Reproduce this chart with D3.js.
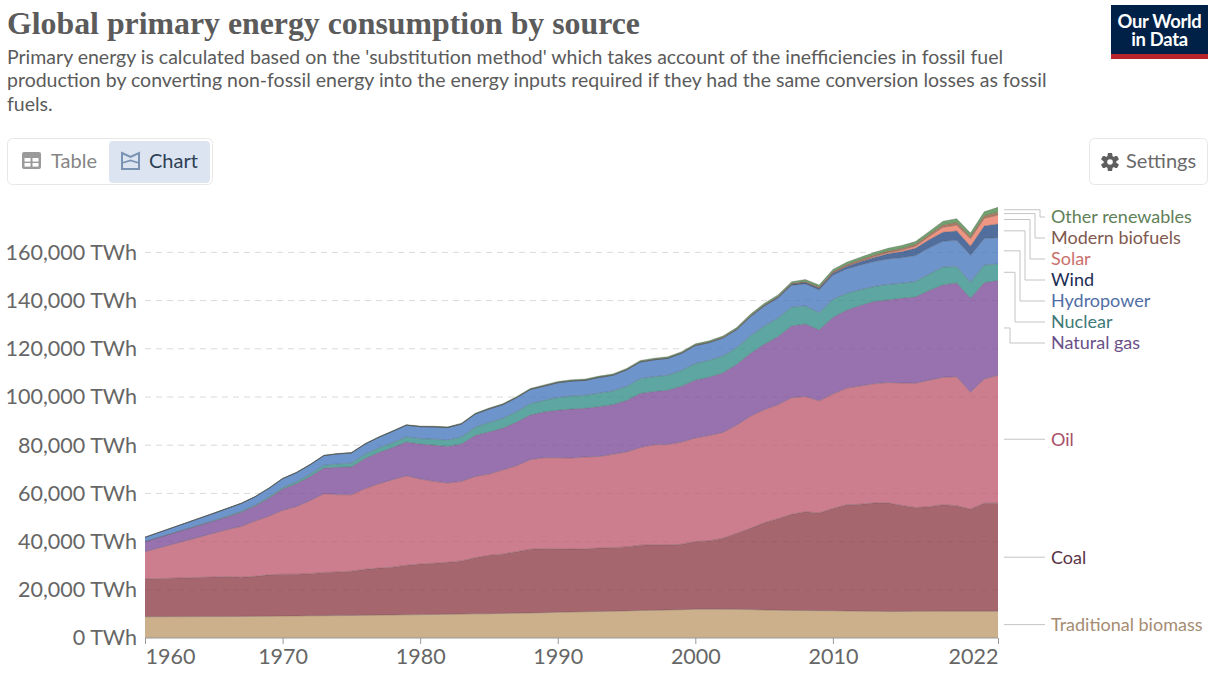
<!DOCTYPE html>
<html>
<head>
<meta charset="utf-8">
<script src="https://cdn.jsdelivr.net/npm/d3@7"></script>
<style>
	html, body { margin: 0; padding: 0; background: #fff; }
	svg { display: block; }
	text { font-family: Lato, sans-serif; }
</style>
</head>
<body>
<div id="chart"></div>
<script>
// one value per year, the source jumps from 1960 straight to 1965
var years = [1960].concat(d3.range(1965, 2023));

var biomass = [8800,8900,8920,8950,8980,9020,9100,9150,9200,9250,9300,9350,9420,9500,9550,9620,9700,9780,9860,9940,10020,10100,10200,10300,10400,10500,10700,10800,10900,11000,11100,11250,11400,11500,11600,11750,11950,11950,11950,11900,11800,11600,11550,11450,11400,11350,11300,11200,11150,11050,11000,11000,11050,11050,11100,11100,11100,11100,11100];
var coal = [15700,16400,16580,16250,16620,17180,17400,17350,17500,17950,18100,18350,19080,19500,19850,20580,21000,21220,21540,22060,23280,24200,24600,25500,26400,26600,26300,26100,26100,26300,26400,26550,27100,27200,27000,27150,28050,28350,29450,31500,33700,36200,37950,39850,41000,40550,42400,44100,44350,44950,45100,44000,43050,43450,44200,43800,42300,44800,44850];
var oil = [11300,18200,19500,21100,22900,24300,26500,28000,30300,32700,32100,31700,33500,35000,36300,37100,35300,34000,32900,33000,33700,33700,34900,35700,37200,37700,37800,37800,38100,38000,38700,39400,40500,41500,41700,42400,43000,43700,43900,44900,46500,46900,47300,48400,47800,46500,47500,48400,49100,49500,49900,50800,51600,52500,52900,53500,48600,51600,53050];
var gas = [4200,5000,5300,5900,6300,7500,8800,9500,10000,10600,11300,11600,12500,13000,13300,14000,14500,15000,15200,15500,17000,17500,17300,18000,18500,19000,19700,20300,20200,20700,20600,21300,22500,22100,22500,23200,24000,24200,24700,25200,26000,27100,28200,29800,30100,29400,31800,32300,33400,34100,34300,35200,35800,37200,38300,38900,39000,39900,39300];
var nuclear = [0,250,300,350,400,500,600,800,1000,1200,1400,1500,1700,1900,2050,2100,2200,2500,2600,2900,3400,3900,4100,4400,4700,4800,5300,5400,5400,5600,5700,5900,6100,6100,6200,6500,6900,7000,7000,6900,7300,7600,7700,7800,7500,7200,7500,7000,6500,6200,6400,6200,6400,6800,7400,6800,6600,7400,6900];
var hydro = [1800,3000,3200,3300,3400,3600,3700,3800,3900,4000,4200,4300,4300,4400,4700,4900,5000,5100,5200,5400,5500,5600,5700,5800,5900,5900,6100,6200,6200,6500,6500,6800,6900,7000,7000,7100,7400,7300,7400,7400,7900,8200,8300,9000,9100,9400,10000,10100,10300,10400,10600,10600,10800,10900,10700,10900,11200,11000,10900];
var wind = [0,0,0,0,0,0,0,0,0,0,0,0,0,0,0,0,0,0,0,0,0,0,0,0,0,0,0,0,0,0,0,20,25,30,40,50,80,100,130,170,220,270,350,450,580,700,900,1100,1300,1700,2100,2500,3000,3400,3800,3900,3800,5200,5700];
var solar = [0,0,0,0,0,0,0,0,0,0,0,0,0,0,0,0,0,0,0,0,0,0,0,0,0,0,0,0,0,0,0,0,0,0,0,0,0,5,5,8,8,10,15,20,30,50,90,170,250,350,480,650,900,1300,2000,2400,3100,3100,3700];
var biofuels = [0,0,0,0,0,0,0,0,0,0,5,8,12,18,22,26,30,40,55,70,85,100,105,110,115,120,130,135,140,145,155,170,180,190,190,180,170,190,210,240,270,300,330,380,450,500,550,560,600,650,680,720,780,850,1000,1100,900,1100,1200];
var otherRenewables = [0,120,125,130,135,140,150,155,160,165,170,180,185,190,200,210,220,240,255,270,285,300,320,340,360,380,400,410,420,430,440,450,460,470,480,490,500,520,550,580,610,650,680,720,770,800,900,980,1050,1100,1150,1200,1100,1250,1500,1600,1400,1700,2000];

var keys = ["biomass","coal","oil","gas","nuclear","hydro","wind","solar","biofuels","other"];
var seriesValues = [biomass,coal,oil,gas,nuclear,hydro,wind,solar,biofuels,otherRenewables];
var seriesNames = ["Traditional biomass","Coal","Oil","Natural gas","Nuclear","Hydropower","Wind","Solar","Modern biofuels","Other renewables"];
var fillColors = ["#bf9b6e","#8f4049","#bf5c72","#7d4f9a","#36908a","#4a79bf","#254a85","#ea7a64","#9a5a3c","#4f8a4c"];
var labelColors = ["#a68c72","#5a3448","#a85068","#6a5088","#3f7a78","#4f6ea5","#1b2d52","#c9706c","#80584e","#5f7f58"];

var yTicks = [0,20000,40000,60000,80000,100000,120000,140000,160000];
var xTicks = [1960,1970,1980,1990,2000,2010,2022];

var W = 1220, H = 683;
var x = d3.scaleLinear().domain([1960, 2022]).range([145, 998]);
var y = d3.scaleLinear().domain([0, 160000]).range([638, 252.4]);

var svg = d3.select("#chart").append("svg").attr("width", W).attr("height", H);

// header
svg.append("text").attr("x", 7).attr("y", 34)
	.attr("textLength", 633).attr("lengthAdjust", "spacingAndGlyphs")
	.style("font-family", "'Liberation Serif', serif").style("font-weight", 700)
	.style("font-size", "31px").attr("fill", "#5b5b5b")
	.text("Global primary energy consumption by source");

var subtitle = [
	"Primary energy is calculated based on the 'substitution method' which takes account of the inefficiencies in fossil fuel",
	"production by converting non-fossil energy into the energy inputs required if they had the same conversion losses as fossil",
	"fuels."
];
svg.selectAll("text.sub").data(subtitle).enter().append("text")
	.attr("class", "sub")
	.attr("x", 7)
	.attr("y", function(d, i) { return 64 + i * 23.3; })
	.attr("fill", "#5b5b5b")
	.style("font-size", "19.5px")
	.text(function(d) { return d; });

// logo
svg.append("rect").attr("x", 1111).attr("y", 5).attr("width", 97).attr("height", 54).attr("fill", "#002147");
svg.append("rect").attr("x", 1111).attr("y", 54).attr("width", 97).attr("height", 5).attr("fill", "#b7242c");
var logoText = svg.append("text").attr("text-anchor", "middle").attr("fill", "#fff")
	.style("font-size", "18.4px").style("font-weight", 700).style("letter-spacing", "-0.3px");
logoText.append("tspan").attr("x", 1159.5).attr("y", 28).text("Our World");
logoText.append("tspan").attr("x", 1159.5).attr("y", 46).text("in Data");

// table / chart switch
svg.append("rect").attr("x", 7.5).attr("y", 138.5).attr("width", 205).attr("height", 46).attr("rx", 5)
	.attr("fill", "#fff").attr("stroke", "#e7e7e7");
svg.append("rect").attr("x", 109).attr("y", 141).attr("width", 101).attr("height", 42).attr("rx", 4).attr("fill", "#dbe4f0");

var tableIcon = svg.append("g").attr("transform", "translate(22,152)");
tableIcon.append("rect").attr("width", 19).attr("height", 17).attr("rx", 2).attr("fill", "#9a9a9a");
tableIcon.append("rect").attr("x", 2.5).attr("y", 6).attr("width", 6).attr("height", 3.6).attr("fill", "#fff");
tableIcon.append("rect").attr("x", 10.5).attr("y", 6).attr("width", 6).attr("height", 3.6).attr("fill", "#fff");
tableIcon.append("rect").attr("x", 2.5).attr("y", 11).attr("width", 6).attr("height", 3.6).attr("fill", "#fff");
tableIcon.append("rect").attr("x", 10.5).attr("y", 11).attr("width", 6).attr("height", 3.6).attr("fill", "#fff");
svg.append("text").attr("x", 51).attr("y", 168).attr("fill", "#858585").style("font-size", "20px").text("Table");

var chartIcon = svg.append("g").attr("transform", "translate(122,153)");
chartIcon.append("path").attr("d", "M0,0 L8.5,4 L17,0 V16 H0 Z").attr("fill", "none").attr("stroke", "#7a93b3").attr("stroke-width", 2);
chartIcon.append("path").attr("d", "M0,10 L8.5,7.5 L17,10").attr("fill", "none").attr("stroke", "#7a93b3").attr("stroke-width", 1.8);
svg.append("text").attr("x", 149).attr("y", 168).attr("fill", "#2d3f55").style("font-size", "20px").text("Chart");

// settings button
svg.append("rect").attr("x", 1089.5).attr("y", 138.5).attr("width", 118).attr("height", 46).attr("rx", 5)
	.attr("fill", "#fff").attr("stroke", "#e7e7e7");
var gear = svg.append("g").attr("transform", "translate(1110,162)");
d3.range(6).forEach(function(i) {
	gear.append("rect").attr("x", -2.2).attr("y", -9).attr("width", 4.4).attr("height", 18).attr("rx", 1)
		.attr("fill", "#5f5f5f").attr("transform", "rotate(" + (i * 60) + ")");
});
gear.append("circle").attr("r", 6.4).attr("fill", "#5f5f5f");
gear.append("circle").attr("r", 2.8).attr("fill", "#fff");
svg.append("text").attr("x", 1126).attr("y", 168).attr("fill", "#6a6a6a").style("font-size", "20px").text("Settings");

// grid goes under the areas, the areas are see through
svg.selectAll("line.grid").data(yTicks.slice(1)).enter().append("line")
	.attr("class", "grid")
	.attr("x1", 145).attr("x2", 998)
	.attr("y1", function(d) { return y(d); })
	.attr("y2", function(d) { return y(d); })
	.attr("stroke", "#d9d9d9").attr("stroke-dasharray", "6,5");

var rows = years.map(function(yr, i) {
	var row = { year: yr };
	keys.forEach(function(k, j) { row[k] = seriesValues[j][i]; });
	return row;
});
var stacked = d3.stack().keys(keys)(rows);

var area = d3.area()
	.x(function(d) { return x(d.data.year); })
	.y0(function(d) { return y(d[0]); })
	.y1(function(d) { return y(d[1]); });
var topLine = d3.line()
	.x(function(d) { return x(d.data.year); })
	.y(function(d) { return y(d[1]); });

svg.selectAll("path.area").data(stacked).enter().append("path")
	.attr("class", "area")
	.attr("d", area)
	.attr("fill", function(d, i) { return fillColors[i]; })
	.attr("fill-opacity", 0.8);
// grey edges pile up where the small series are thin, that gives the dark top line
svg.selectAll("path.edge").data(stacked).enter().append("path")
	.attr("class", "edge")
	.attr("d", topLine)
	.attr("fill", "none")
	.attr("stroke", "#444")
	.attr("stroke-opacity", 0.3)
	.attr("stroke-width", 0.9);

// axes
var yAxis = d3.axisLeft(y).tickValues(yTicks).tickSize(0).tickPadding(8)
	.tickFormat(function(d) { return d3.format(",")(d) + " TWh"; });
var gy = svg.append("g").attr("transform", "translate(145,0)").call(yAxis);
gy.select(".domain").remove();
gy.selectAll("text").attr("fill", "#666").style("font-size", "21.5px").attr("dy", "0.32em");

var xAxis = d3.axisBottom(x).tickValues(xTicks).tickSize(6).tickPadding(5).tickFormat(d3.format("d"));
var gx = svg.append("g").attr("transform", "translate(0,638)").call(xAxis);
gx.select(".domain").attr("stroke", "#999").attr("d", "M145,0H998");
gx.selectAll("line").attr("stroke", "#999");
gx.selectAll("text").attr("fill", "#666").style("font-size", "21.5px")
	.attr("text-anchor", function(d, i) { return i === 0 ? "start" : i === xTicks.length - 1 ? "end" : "middle"; });

// series labels, top seven are pushed apart and get an elbow line
var labelX = 1051, lineStart = 1004, lineEnd = 1045;
var upper = ["other","biofuels","solar","wind","hydro","nuclear","gas"];

function midY(key) {
	var s = stacked[keys.indexOf(key)];
	var last = s[s.length - 1];
	return y((last[0] + last[1]) / 2);
}

upper.forEach(function(key, i) {
	var y1 = midY(key), y2 = 217 + i * 21, elbow = 1040 - i * 5;
	svg.append("path")
		.attr("d", "M" + lineStart + "," + y1 + "H" + elbow + "V" + y2 + "H" + lineEnd)
		.attr("fill", "none").attr("stroke", "#c4c4c4");
	svg.append("text").attr("x", labelX).attr("y", y2).attr("dy", "0.35em")
		.attr("fill", labelColors[keys.indexOf(key)])
		.style("font-size", "18px")
		.text(seriesNames[keys.indexOf(key)]);
});
["oil","coal","biomass"].forEach(function(key) {
	var y1 = midY(key);
	svg.append("line").attr("x1", lineStart).attr("x2", lineEnd).attr("y1", y1).attr("y2", y1).attr("stroke", "#c4c4c4");
	svg.append("text").attr("x", labelX).attr("y", y1).attr("dy", "0.35em")
		.attr("fill", labelColors[keys.indexOf(key)])
		.style("font-size", "18px")
		.text(seriesNames[keys.indexOf(key)]);
});
</script>
</body>
</html>
